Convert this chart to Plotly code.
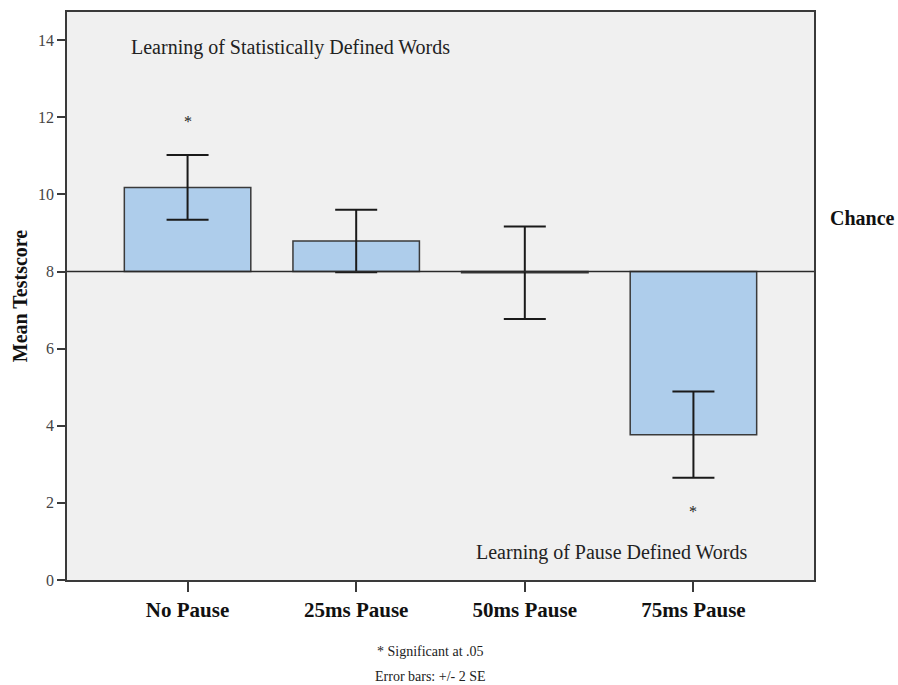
import plotly.graph_objects as go

# Mean test scores per pause condition, with +/- 2 SE error bars
conditions = ["No Pause", "25ms Pause", "50ms Pause", "75ms Pause"]
mean_scores = [10.18, 8.79, 7.97, 3.77]
two_se = [0.84, 0.81, 1.20, 1.12]
chance = 8
y_ticks = [0, 2, 4, 6, 8, 10, 12, 14]

# Significance markers (condition, y position)
sig_marks = [("No Pause", 11.9), ("75ms Pause", 1.78)]

SERIF = "Liberation Serif"

fig = go.Figure()

# Bars drawn from the chance level
fig.add_trace(go.Bar(
    x=conditions,
    y=[m - chance for m in mean_scores],
    base=chance,
    width=0.75,
    marker=dict(color="#aecdeb", line=dict(color="#3a3a3a", width=1.5)),
    hoverinfo="skip",
    showlegend=False,
))

# Error bars around each mean
fig.add_trace(go.Scatter(
    x=conditions,
    y=mean_scores,
    mode="markers",
    marker=dict(size=1, color="rgba(0,0,0,0)"),
    error_y=dict(type="data", array=two_se, visible=True,
                 color="#1a1a1a", thickness=2, width=21),
    hoverinfo="skip",
    showlegend=False,
))

# Chance reference line
fig.add_shape(type="line", xref="paper", x0=0, x1=1, yref="y", y0=chance, y1=chance,
              line=dict(color="#2a2a2a", width=1.5))

annotations = [
    dict(text="Chance", xref="paper", x=1.019, y=9.38, xanchor="left", yanchor="middle",
         font=dict(family=SERIF, size=20, color="#111", weight="bold"), showarrow=False),
    dict(text="Learning of Statistically Defined Words", xref="paper", x=0.299, y=13.8,
         xanchor="center", yanchor="middle",
         font=dict(family=SERIF, size=20, color="#222"), showarrow=False),
    dict(text="Learning of Pause Defined Words", xref="paper", x=0.729, y=0.72,
         xanchor="center", yanchor="middle",
         font=dict(family=SERIF, size=20, color="#222"), showarrow=False),
    dict(text="* Significant at .05", xref="paper", yref="paper", x=0.487, y=-0.126,
         xanchor="center", yanchor="middle",
         font=dict(family=SERIF, size=14, color="#222"), showarrow=False),
    dict(text="Error bars: +/- 2 SE", xref="paper", yref="paper", x=0.487, y=-0.170,
         xanchor="center", yanchor="middle",
         font=dict(family=SERIF, size=14, color="#222"), showarrow=False),
]
for cond, ypos in sig_marks:
    annotations.append(dict(text="*", x=cond, y=ypos, xanchor="center", yanchor="middle",
                            font=dict(family=SERIF, size=16, color="#222"), showarrow=False))

fig.update_layout(
    width=898, height=685,
    margin=dict(l=67, r=84, t=10, b=105),
    paper_bgcolor="white",
    plot_bgcolor="#f0f0f0",
    bargap=0.25,
    annotations=annotations,
    xaxis=dict(
        type="category",
        range=[-0.715, 3.715],
        showline=True, linecolor="#3a3a3a", linewidth=1.5, mirror=True,
        ticks="outside", ticklen=10, tickwidth=1.5, tickcolor="#3a3a3a",
        tickfont=dict(family=SERIF, size=21, color="#111", weight="bold"),
        showgrid=False, zeroline=False, fixedrange=True,
    ),
    yaxis=dict(
        range=[0, 14.73],
        tickvals=y_ticks,
        showline=True, linecolor="#3a3a3a", linewidth=1.5, mirror=True,
        ticks="outside", ticklen=8, tickwidth=1.5, tickcolor="#3a3a3a",
        tickfont=dict(family=SERIF, size=16, color="#444"),
        title=dict(text="Mean Testscore", standoff=5,
                   font=dict(family=SERIF, size=20, color="#111", weight="bold")),
        showgrid=False, zeroline=False, fixedrange=True,
    ),
)

fig.write_html("out.html")
